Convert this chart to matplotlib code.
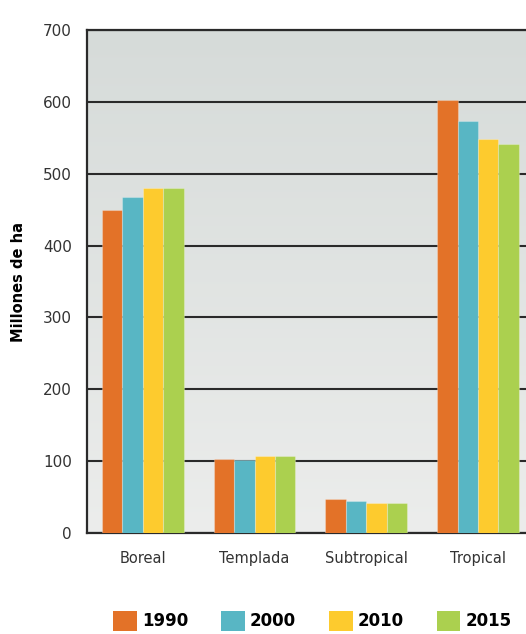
import numpy as np
import matplotlib.pyplot as plt
from matplotlib.patches import Patch

plt.rcParams['font.family'] = ['DejaVu Sans']

categorias = ['Boreal', 'Templada', 'Subtropical', 'Tropical']
anios = ['1990', '2000', '2010', '2015']
v1990 = [450, 102.5, 48, 603]
v2000 = [467, 102, 44, 574]
v2010 = [480, 107.5, 42, 549]
v2015 = [480, 107, 41.5, 541]
colores = ['#e37228', '#58b6c4', '#fdcb2e', '#abd04f']
yticks = [0, 100, 200, 300, 400, 500, 600, 700]

fig = plt.figure(figsize=(5.26, 6.34), dpi=100)
ax = fig.add_axes([87/526, 101/634, 1 - 87/526, 503/634])

# fondo degradado (gris arriba, mas claro abajo)
grad = np.linspace(0, 1, 256).reshape(-1, 1)
top = np.array([0.839, 0.859, 0.851])
bot = np.array([0.925, 0.929, 0.925])
img = top + (bot - top) * grad[:, :, None]
ax.imshow(img, extent=[-0.5, 3.43, 0, 700], aspect='auto', zorder=0, origin='upper')

x = np.arange(len(categorias))
w = 0.183
for i, (vals, c, lab) in enumerate(zip([v1990, v2000, v2010, v2015], colores, anios)):
    ax.bar(x + (i - 1.5) * w, vals, w, color=c, label=lab, zorder=3,
           edgecolor=(1, 1, 1, 0.25), linewidth=0.8)

ax.set_xlim(-0.5, 3.43)
ax.set_ylim(0, 700)
ax.set_yticks(yticks)
ax.set_yticklabels([str(t) for t in yticks], fontsize=11, color='#333333')
ax.set_xticks(x)
ax.set_xticklabels(categorias, fontsize=10.5, color='#333333')
ax.tick_params(axis='both', length=0)
ax.tick_params(axis='y', pad=11)
ax.tick_params(axis='x', pad=13)
ax.yaxis.grid(True, color='#2a2a2a', linewidth=1.5, zorder=2)
ax.set_axisbelow(False)
ax.spines['right'].set_visible(False)
for s in ['left', 'bottom', 'top']:
    ax.spines[s].set_color('#2a2a2a')
    ax.spines[s].set_linewidth(1.6)
ax.set_ylabel('Millones de ha', fontsize=10.5, fontweight='bold', labelpad=12)

handles = [Patch(facecolor=c, label=a) for c, a in zip(colores, anios)]
fig.legend(handles=handles, loc='center', bbox_to_anchor=(0.594, 0.021), ncol=4,
           frameon=False, handlelength=1.4, handleheight=1.5,
           handletextpad=0.3, columnspacing=2.0,
           prop={'weight': 'bold', 'size': 12})

fig.savefig('out.png', dpi=100)
